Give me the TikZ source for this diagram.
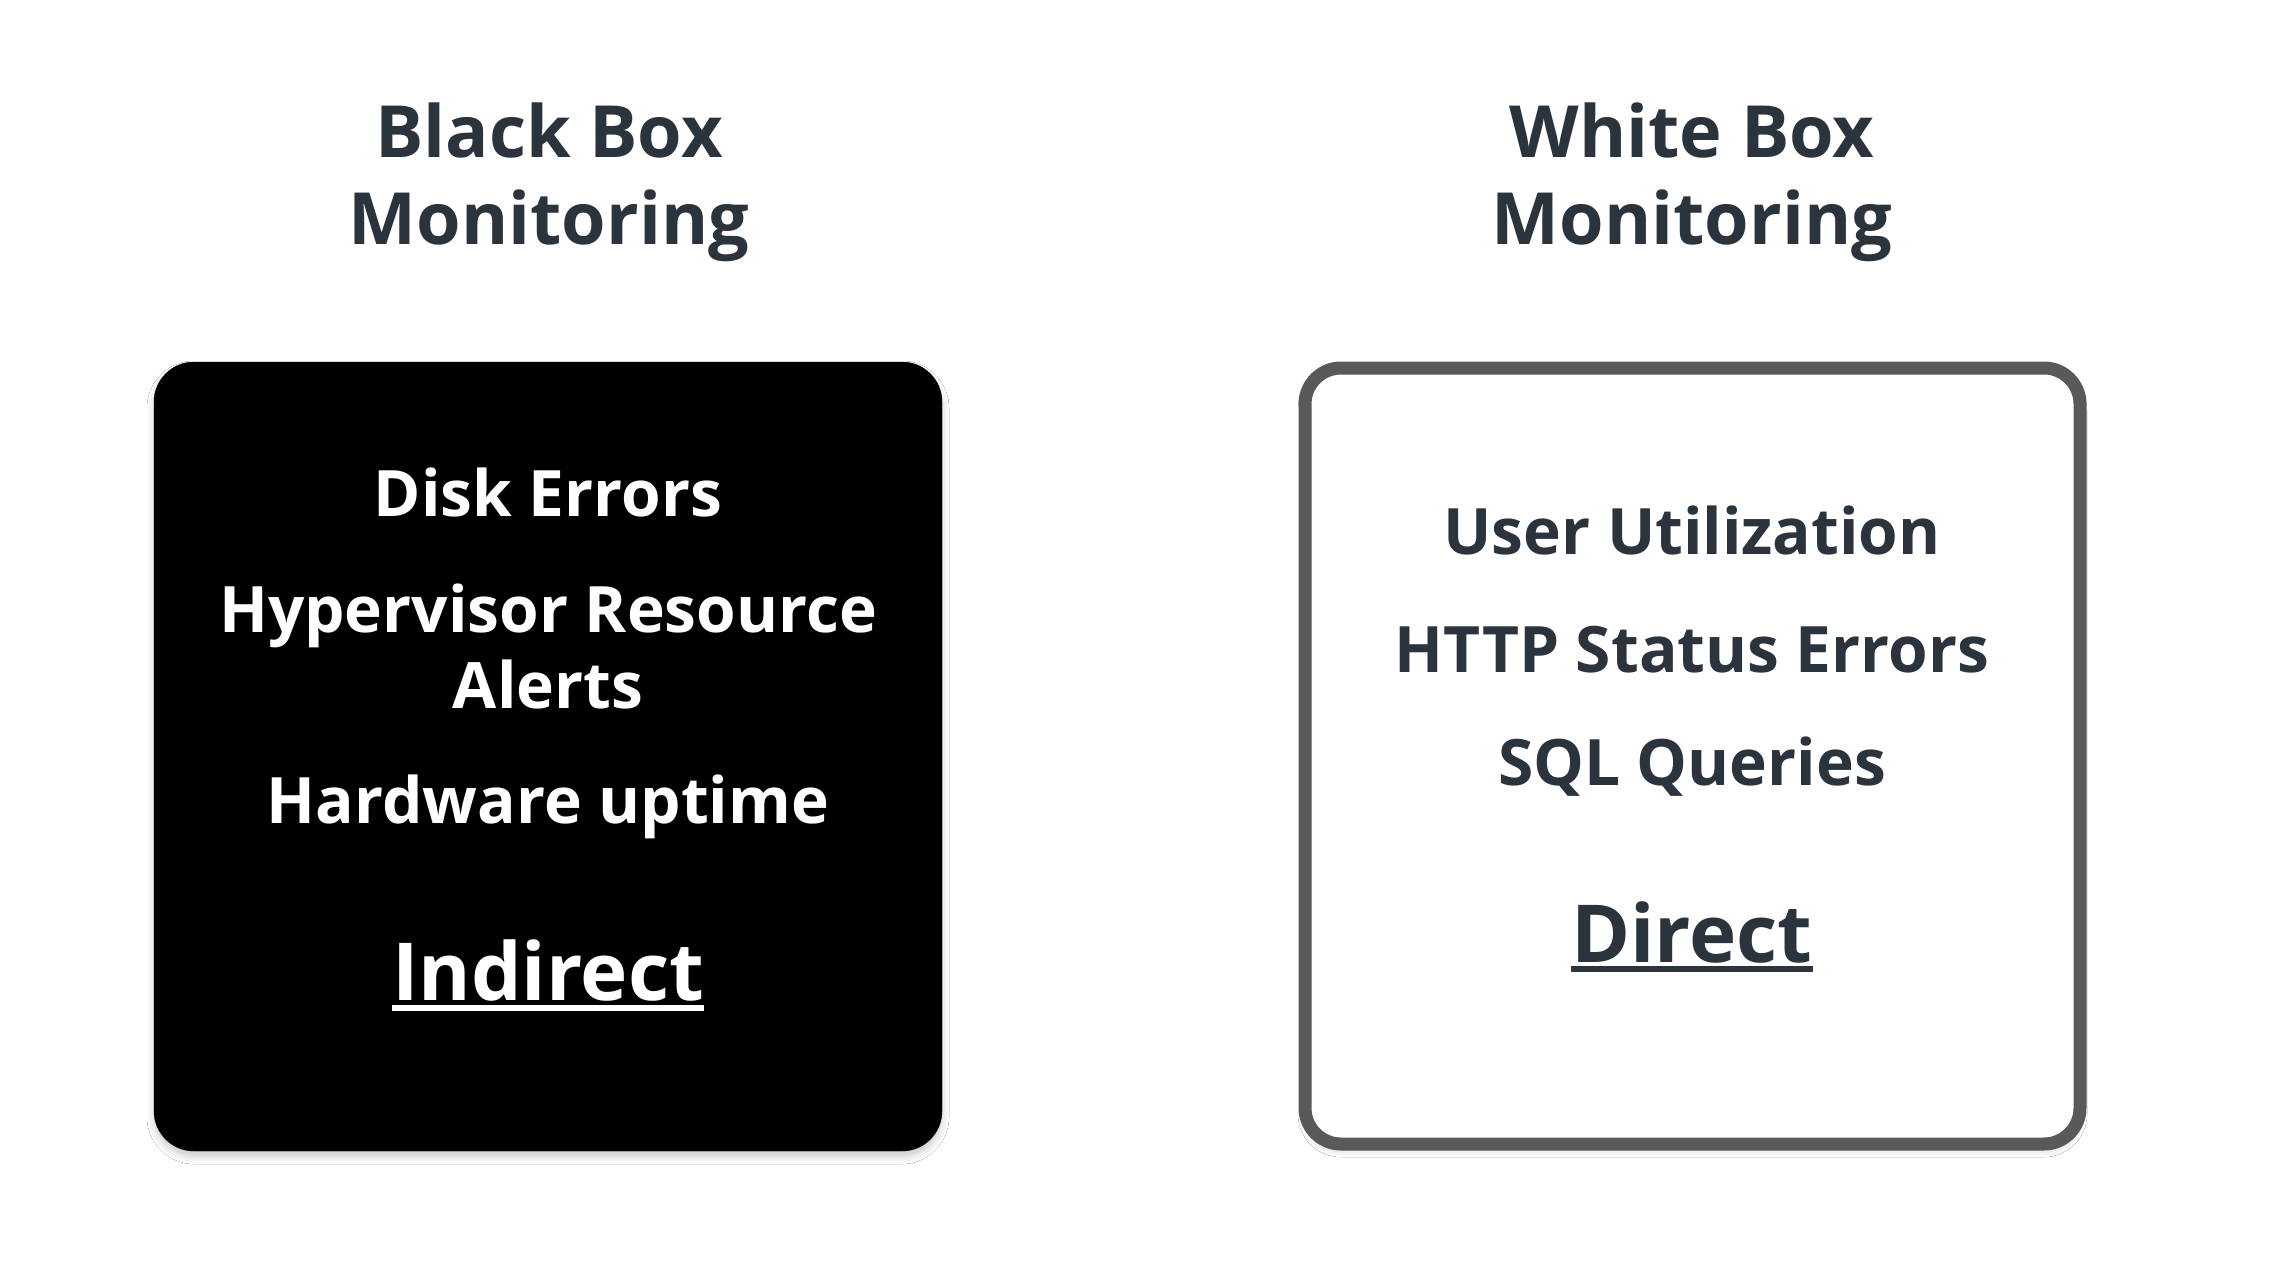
\documentclass[tikz,border=0pt]{standalone}
\usepackage{fontspec}
\setmainfont{Open Sans}
\usetikzlibrary{shadows.blur}
\definecolor{slate}{HTML}{2B343D}
\definecolor{rim}{HTML}{595959}
\tikzset{
  title/.style={anchor=base, inner sep=0pt, text=slate, font=\bfseries\fontsize{72}{87}\selectfont},
  itemb/.style={anchor=base, inner sep=0pt, text=white, font=\bfseries\fontsize{64}{76}\selectfont},
  itemw/.style={anchor=base, inner sep=0pt, text=slate, font=\bfseries\fontsize{64}{76}\selectfont},
  keyb/.style={anchor=base, inner sep=0pt, text=white, font=\bfseries\fontsize{80}{90}\selectfont},
  keyw/.style={anchor=base, inner sep=0pt, text=slate, font=\bfseries\fontsize{80}{90}\selectfont},
  panel/.style={rounded corners=40pt, blur shadow={shadow xshift=0pt, shadow yshift=-6pt, shadow blur radius=7pt, shadow opacity=20}},
}
\begin{document}
\begin{tikzpicture}[x=1pt,y=-1pt]
\useasboundingbox[fill=white] (0,0) rectangle (2296,1268);
% panels
\draw[panel, fill=black] (154,362) rectangle (942,1151);
\draw[panel, fill=white, draw=rim, line width=13pt, rounded corners=36pt] (1305,368) rectangle (2080,1144);
% titles
\node[title] (bt1) at (549,158) {Black Box};
\node[title] (bt2) at (549,244) {Monitoring};
\node[title] (wt1) at (1692,158) {White Box};
\node[title] (wt2) at (1692,244) {Monitoring};
% black items
\node[itemb] (b1) at (548,516) {Disk Errors};
\node[itemb] (b2) at (548,632) {Hypervisor Resource};
\node[itemb] (b3) at (548,708) {Alerts};
\node[itemb] (b4) at (548,823) {Hardware uptime};
\node[keyb] (bk) at (548,1000) {Indirect};
\draw[white, line width=6pt] ([yshift=-8pt]bk.base west) -- ([yshift=-8pt]bk.base east);
% white items
\node[itemw] (w1) at (1692,554) {User Utilization};
\node[itemw] (w2) at (1692,672) {HTTP Status Errors};
\node[itemw] (w3) at (1692,785) {SQL Queries};
\node[keyw] (wk) at (1692,962) {Direct};
\draw[slate, line width=6pt] ([yshift=-7pt]wk.base west) -- ([yshift=-7pt]wk.base east);
\end{tikzpicture}
\end{document}
